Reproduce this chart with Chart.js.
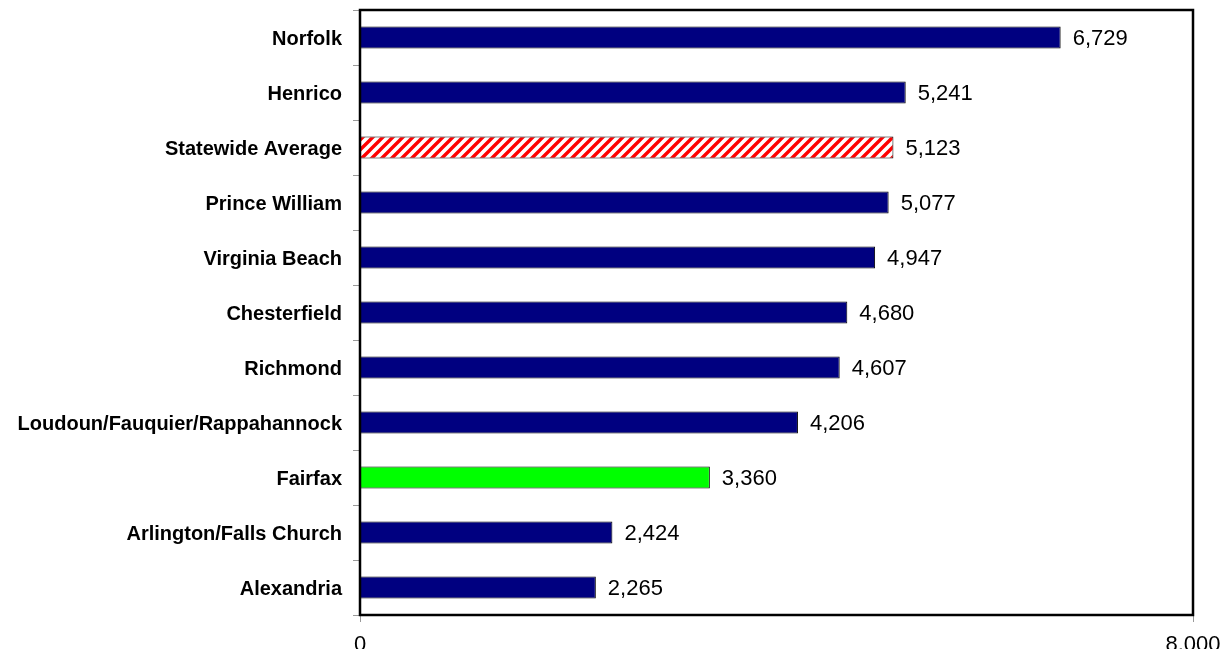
<!DOCTYPE html>
<html><head><meta charset="utf-8">
<script src="https://cdn.jsdelivr.net/npm/chart.js@4/dist/chart.umd.min.js"></script>
<style>html,body{margin:0;padding:0;background:#fff}#wrap{width:1231px;height:649px}</style>
</head><body><div id="wrap"><canvas id="c" width="1231" height="649"></canvas></div>
<script>
const categories = ["Norfolk","Henrico","Statewide Average","Prince William","Virginia Beach","Chesterfield","Richmond","Loudoun/Fauquier/Rappahannock","Fairfax","Arlington/Falls Church","Alexandria"];
const values = [6729,5241,5123,5077,4947,4680,4607,4206,3360,2424,2265];
const xTicks = [0, 8000];

const ctx = document.getElementById('c').getContext('2d');
function hatch(){
  const n = 10;
  const p = document.createElement('canvas'); p.width = n; p.height = n;
  const g = p.getContext('2d');
  g.fillStyle = '#fff'; g.fillRect(0,0,n,n);
  g.strokeStyle = '#ff0000'; g.lineWidth = 3.4;
  g.beginPath();
  g.moveTo(-2,n+2); g.lineTo(n+2,-2);
  g.moveTo(-2,2); g.lineTo(2,-2);
  g.moveTo(n-2,n+2); g.lineTo(n+2,n-2);
  g.stroke();
  return ctx.createPattern(p,'repeat');
}
const colors = categories.map(c => c === 'Statewide Average' ? hatch() : (c === 'Fairfax' ? '#00ff00' : '#000080'));

const FONT = "'Liberation Sans', Arial, sans-serif";
const labelPlugin = {
  id:'labels',
  afterDatasetsDraw(chart){
    const c = chart.ctx; const meta = chart.getDatasetMeta(0);
    c.save(); c.fillStyle='#000'; c.font = "22px " + FONT; c.textBaseline='middle'; c.textAlign='left';
    meta.data.forEach((b,i)=>{ c.fillText(values[i].toLocaleString('en-US'), b.x + 12, b.y + 1); });
    c.restore();
  },
  afterDraw(chart){
    const a = chart.chartArea; const c = chart.ctx;
    c.save(); c.strokeStyle='#000'; c.lineWidth=2.5; c.strokeRect(a.left, a.top, a.right-a.left, a.bottom-a.top); c.restore();
  }
};

new Chart(ctx,{
  type:'bar',
  data:{labels:categories, datasets:[{data:values, backgroundColor:colors, borderColor:'#000', borderWidth:1, barPercentage:0.8, categoryPercentage:0.5}]},
  options:{
    indexAxis:'y', responsive:false, animation:false,
    layout:{padding:{top:10,right:38,left:0,bottom:0}},
    plugins:{legend:{display:false}, tooltip:{enabled:false}},
    scales:{
      x:{min:0,max:8000,
        afterBuildTicks(s){ s.ticks = xTicks.map(v=>({value:v})); },
        afterFit(s){ s.height = 34; s.paddingLeft = 0; s.paddingRight = 0; },
        ticks:{color:'#000', font:{family:FONT,size:22}, padding:10, maxRotation:0, autoSkip:false, callback:v=>v.toLocaleString('en-US')},
        grid:{drawOnChartArea:false, color:'#999', tickLength:7},
        border:{display:false}
      },
      y:{
        afterFit(s){ s.width = 360; s.paddingTop = 0; s.paddingBottom = 0; },
        ticks:{color:'#000', font:{family:FONT,size:20,weight:'bold'}, padding:11, labelOffset:2, autoSkip:false},
        grid:{offset:true, drawOnChartArea:false, color:'#999', tickLength:7},
        border:{display:false}
      }
    }
  },
  plugins:[labelPlugin]
});
</script></body></html>
